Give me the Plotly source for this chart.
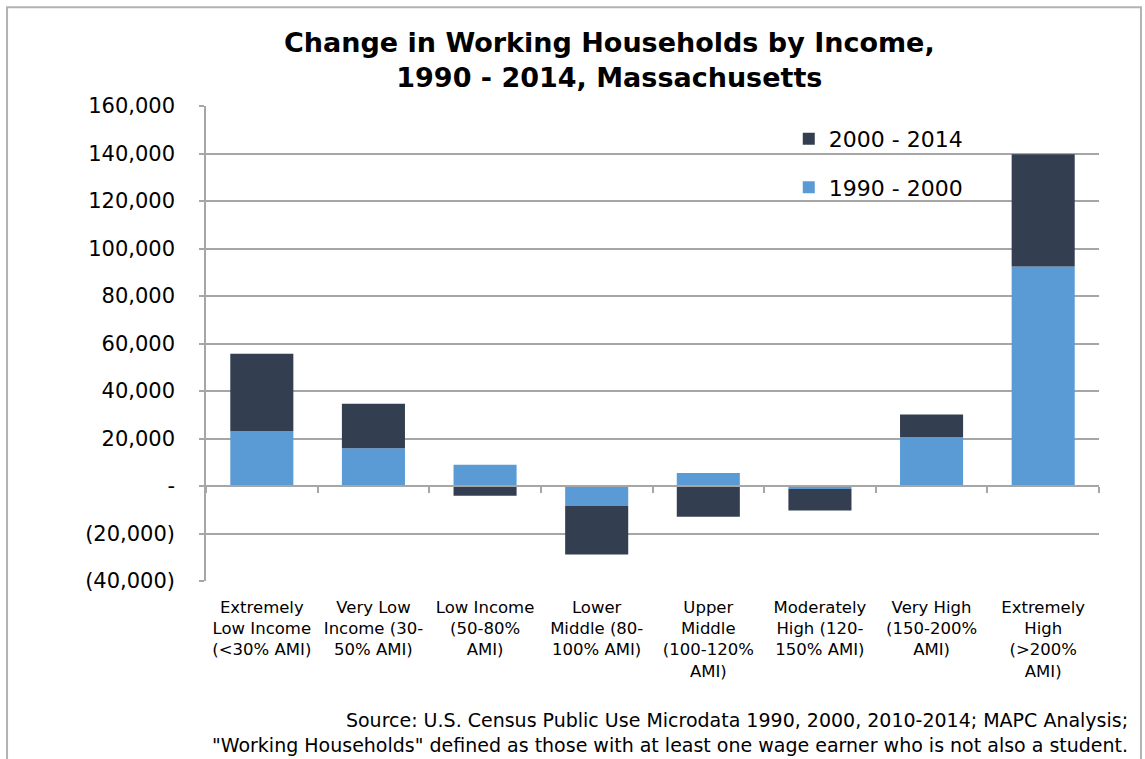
import plotly.graph_objects as go

categories = [
    "Extremely<br>Low Income<br>(<30% AMI)",
    "Very Low<br>Income (30-<br>50% AMI)",
    "Low Income<br>(50-80%<br>AMI)",
    "Lower<br>Middle (80-<br>100% AMI)",
    "Upper<br>Middle<br>(100-120%<br>AMI)",
    "Moderately<br>High (120-<br>150% AMI)",
    "Very High<br>(150-200%<br>AMI)",
    "Extremely<br>High<br>(>200%<br>AMI)",
]
change_1990_2000 = [23100, 15900, 8900, -8400, 5500, -1300, 20500, 92400]
change_2000_2014 = [32600, 18700, -4100, -20400, -12900, -9000, 9600, 47300]

tick_vals = [-40000, -20000, 0, 20000, 40000, 60000, 80000, 100000, 120000, 140000, 160000]
tick_text = ["(40,000)", "(20,000)", "-", "20,000", "40,000", "60,000", "80,000",
             "100,000", "120,000", "140,000", "160,000"]

title_text = "Change in Working Households by Income,<br>1990 - 2014, Massachusetts"
source_text = ("Source: U.S. Census Public Use Microdata 1990, 2000, 2010-2014; MAPC Analysis;<br>"
               "\"Working Households\" defined as those with at least one wage earner who is not also a student.")

FONT = "DejaVu Sans"
GRID = "#a6a6a6"

fig = go.Figure()
fig.add_trace(go.Bar(name="1990 - 2000", x=categories, y=change_1990_2000,
                     marker=dict(color="#5b9bd5", line=dict(width=0)),
                     legendgroup="a", legendrank=2, width=0.565))
fig.add_trace(go.Bar(name="2000 - 2014", x=categories, y=change_2000_2014,
                     marker=dict(color="#333f50", line=dict(width=0)),
                     legendgroup="b", legendrank=1, width=0.565))
# invisible trace carrying the category axis drawn at zero
fig.add_trace(go.Scatter(x=categories, y=[None] * len(categories), xaxis="x2",
                         showlegend=False, hoverinfo="skip"))

annotations = [
    dict(text="<b>" + title_text + "</b>", xref="paper", yref="paper", x=0.4524, y=1.0968,
         xanchor="center", yanchor="middle", showarrow=False,
         font=dict(size=27, family=FONT, color="black")),
    dict(text=source_text, xref="paper", yref="paper", x=1.0347, y=-0.319,
         xanchor="right", yanchor="middle", align="right", showarrow=False,
         font=dict(size=19, family=FONT, color="black")),
]

fig.update_layout(
    width=1145, height=759,
    margin=dict(l=206, r=46, t=106, b=178),
    paper_bgcolor="white", plot_bgcolor="white",
    barmode="relative",
    font=dict(family=FONT, color="black"),
    legend=dict(x=0.6526, y=0.975, xanchor="left", yanchor="top",
                traceorder="grouped", tracegroupgap=17,
                font=dict(size=22, family=FONT), bgcolor="rgba(0,0,0,0)"),
    xaxis=dict(type="category", categoryarray=categories, range=[-0.5, 7.5],
               showline=False, ticks="", showgrid=False,
               tickfont=dict(size=16.5, family=FONT), tickangle=0,
               ticklabelstandoff=14),
    xaxis2=dict(type="category", categoryarray=categories, range=[-0.5, 7.5],
                overlaying="x", anchor="free", position=0.2, side="bottom",
                showline=True, linecolor=GRID, linewidth=1.5,
                ticks="outside", tickson="boundaries", ticklen=6, tickcolor=GRID,
                tickwidth=1.5, showticklabels=False, showgrid=False),
    yaxis=dict(range=[-40000, 160000], tickvals=tick_vals, ticktext=tick_text,
               showgrid=True, gridcolor=GRID, gridwidth=1.5,
               zeroline=False, showline=True, linecolor=GRID, linewidth=1.5,
               ticks="outside", ticklen=5, tickcolor=GRID, tickwidth=1.5,
               tickfont=dict(size=21, family=FONT), ticklabelstandoff=20),
    annotations=annotations,
    shapes=[
        dict(type="rect", xref="paper", yref="paper", x0=-0.2228, x1=1.047, y0=-0.4, y1=1.208,
             line=dict(color="#b3b3b3", width=2), fillcolor="rgba(0,0,0,0)", layer="below"),
    ],
)

fig.write_html("out.html")
